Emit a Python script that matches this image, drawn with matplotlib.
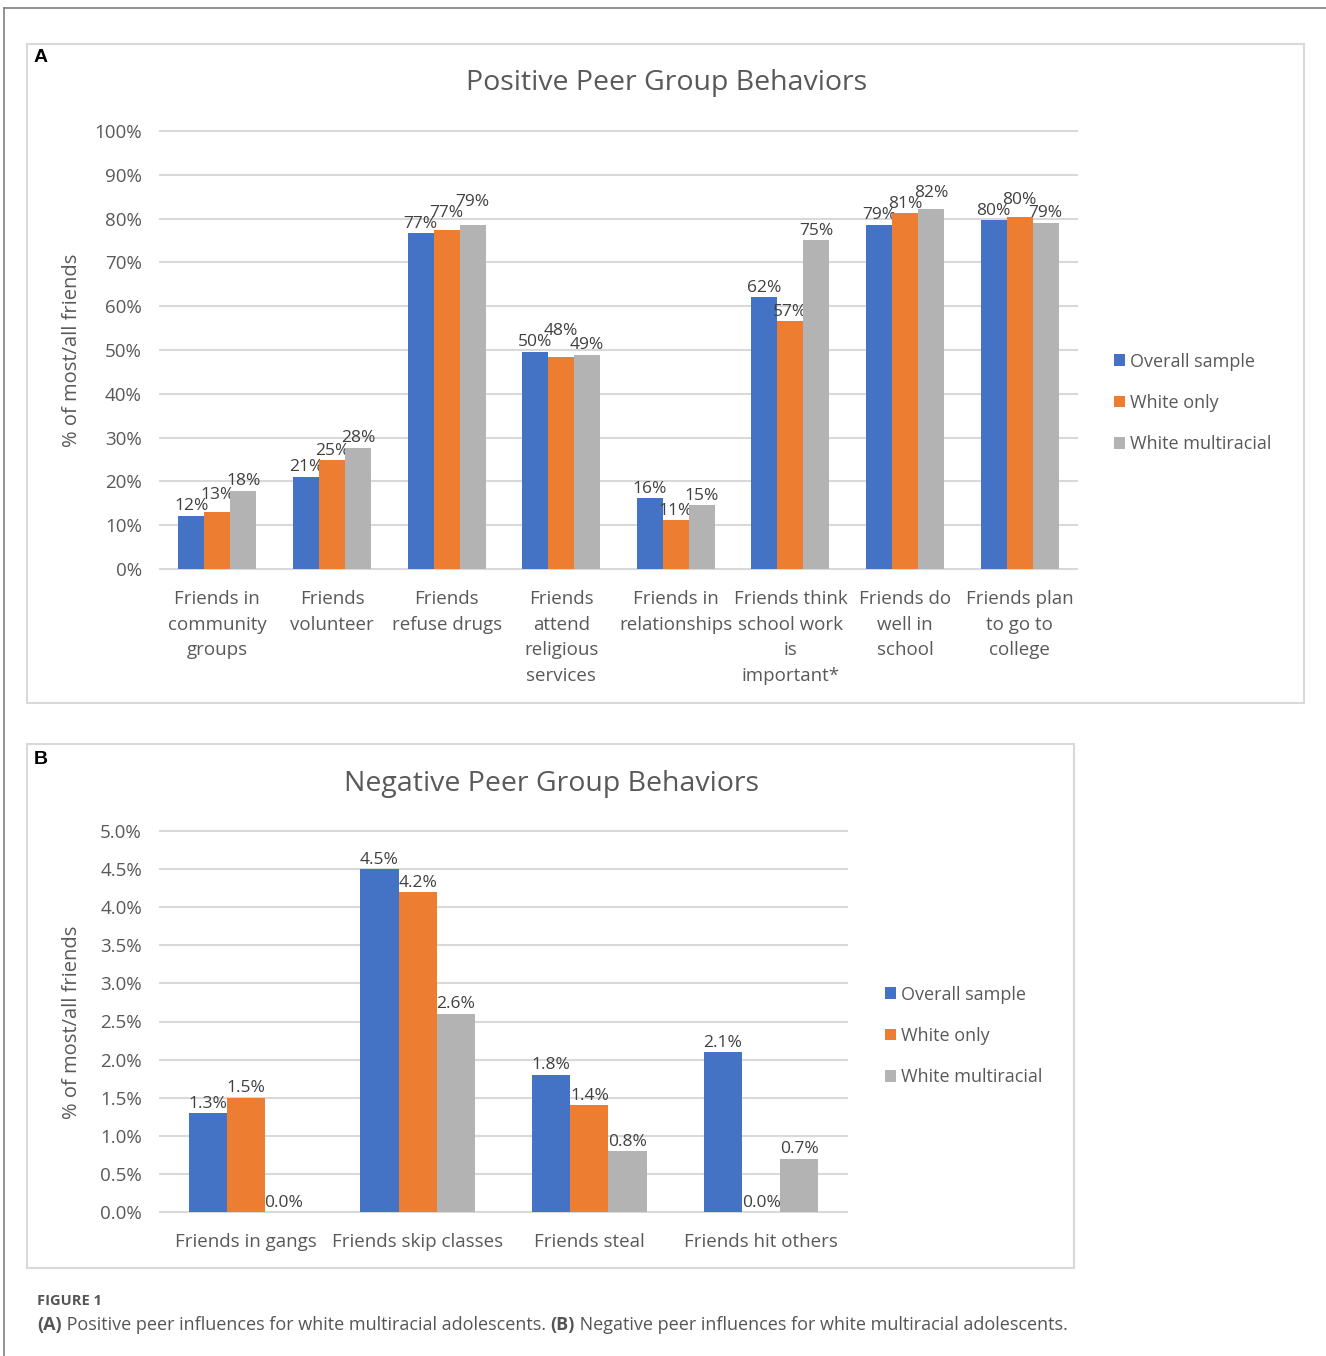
import numpy as np
import matplotlib
matplotlib.use('Agg')
import matplotlib.pyplot as plt
from matplotlib.patches import Rectangle
from matplotlib.lines import Line2D
from matplotlib.ticker import FuncFormatter

plt.rcParams['font.family'] = ['Open Sans', 'DejaVu Sans']

W, H = 1326, 1356

# panel A data (percent of most/all friends)
pos_categories = ['Friends in\ncommunity\ngroups', 'Friends\nvolunteer', 'Friends\nrefuse drugs',
                  'Friends\nattend\nreligious\nservices', 'Friends in\nrelationships',
                  'Friends think\nschool work\nis\nimportant*', 'Friends do\nwell in\nschool',
                  'Friends plan\nto go to\ncollege']
pos_overall = [12.2, 21.1, 76.6, 49.6, 16.1, 62.0, 78.6, 79.6]
pos_white = [12.9, 24.9, 77.3, 48.3, 11.1, 56.6, 81.3, 80.3]
pos_multi = [17.9, 27.7, 78.6, 48.9, 14.6, 75.1, 82.2, 79.1]

# panel B data
neg_categories = ['Friends in gangs', 'Friends skip classes', 'Friends steal', 'Friends hit others']
neg_overall = [1.3, 4.5, 1.8, 2.1]
neg_white = [1.5, 4.2, 1.4, 0.0]
neg_multi = [0.0, 2.6, 0.8, 0.7]

series_names = ['Overall sample', 'White only', 'White multiracial']
colors = ['#4472C4', '#ED7D31', '#B3B3B3']
text_grey = '#595959'
grid_grey = '#D9D9D9'


def px_rect(x0, y0, x1, y1):
    # pixel box (top-left origin) -> figure fraction
    return [x0 / W, 1 - y1 / H, (x1 - x0) / W, (y1 - y0) / H]


def draw_panel(ax, cats, series, ymax, step, fmt, bar_w):
    x = np.arange(len(cats))
    labels = []
    for i, (vals, name, c) in enumerate(zip(series, series_names, colors)):
        bars = ax.bar(x + (i - 1) * bar_w, vals, bar_w, color=c, label=name, zorder=3)
        labels.append(ax.bar_label(bars, labels=[fmt.format(v) for v in vals], padding=1,
                                   fontsize=12.5, color='#404040'))
    ax.set_xlim(-0.5, len(cats) - 0.5)
    ax.set_ylim(0, ymax)
    ax.set_yticks(np.arange(0, ymax + step / 2, step))
    ax.yaxis.set_major_formatter(FuncFormatter(lambda v, p: fmt.format(v)))
    ax.set_xticks(x)
    ax.set_xticklabels(cats, linespacing=1.55)
    ax.grid(axis='y', color=grid_grey, lw=1.5, zorder=0)
    for gl in ax.get_ygridlines():
        gl.set_clip_on(False)
    for s in ax.spines.values():
        s.set_visible(False)
    ax.tick_params(length=0, labelsize=13.5, labelcolor=text_grey)
    ax.tick_params(axis='y', pad=13)
    ax.tick_params(axis='x', pad=15)
    leg = ax.legend(loc='center left', frameon=False, fontsize=13, handlelength=0.6,
                    handleheight=0.6, handletextpad=0.3, labelspacing=1.3, borderpad=0)
    for t in leg.get_texts():
        t.set_color(text_grey)
    return leg, labels


def stagger_labels(labels, renderer):
    # push a data label up when it collides with a neighbour in the same group
    for j in range(len(labels[0])):
        for i in range(1, len(labels)):
            cur = labels[i][j]
            for k in range(i):
                prev = labels[k][j]
                a = prev.get_window_extent(renderer)
                b = cur.get_window_extent(renderer)
                if b.x0 < a.x1 - 1 and b.x1 > a.x0 + 1 and b.y0 < a.y1 - 5 and b.y1 > a.y0 + 5:
                    shift = (a.y1 - 5 - b.y0) * 72 / 100
                    dx, dy = cur.xyann
                    cur.xyann = (dx, dy + shift)


fig = plt.figure(figsize=(W / 100, H / 100), dpi=100)
fig.patch.set_facecolor('white')

# outer frame lines and panel boxes
fig.add_artist(Line2D([4 / W, 4 / W], [0, 1 - 8 / H], color='#808080', lw=1.2))
fig.add_artist(Line2D([4 / W, 1], [1 - 8 / H, 1 - 8 / H], color='#808080', lw=1.2))
fig.add_artist(Rectangle((27 / W, 1 - 703 / H), (1304 - 27) / W, (703 - 44) / H,
                         transform=fig.transFigure, fill=False, edgecolor=grid_grey, lw=1.5))
fig.add_artist(Rectangle((27 / W, 1 - 1268 / H), (1074 - 27) / W, (1268 - 744) / H,
                         transform=fig.transFigure, fill=False, edgecolor=grid_grey, lw=1.5))

# panel A
axA = fig.add_axes(px_rect(160, 131, 1077, 569))
legA, labA = draw_panel(axA, pos_categories, [pos_overall, pos_white, pos_multi], 100, 10,
                        '{:.0f}%', 0.227)
legA.set_bbox_to_anchor((1105 / W, 1 - 403 / H), transform=fig.transFigure)
fig.text(41 / W, 1 - 58 / H, 'A', fontsize=14, fontweight='bold', family='Liberation Sans',
         ha='center', va='center', color='black')
fig.text(667 / W, 1 - 83 / H, 'Positive Peer Group Behaviors', fontsize=20.5, color=text_grey,
         ha='center', va='center')
fig.text(72 / W, 1 - 350 / H, '% of most/all friends', fontsize=14.5, color=text_grey,
         rotation=90, ha='center', va='center')

# panel B
axB = fig.add_axes(px_rect(160, 831, 847, 1212))
legB, labB = draw_panel(axB, neg_categories, [neg_overall, neg_white, neg_multi], 5, 0.5,
                        '{:.1f}%', 0.222)
legB.set_bbox_to_anchor((876 / W, 1 - 1036 / H), transform=fig.transFigure)
fig.text(41 / W, 1 - 760 / H, 'B', fontsize=14, fontweight='bold', family='Liberation Sans',
         ha='center', va='center', color='black')
fig.text(551 / W, 1 - 784 / H, 'Negative Peer Group Behaviors', fontsize=20.5, color=text_grey,
         ha='center', va='center')
fig.text(72 / W, 1 - 1022 / H, '% of most/all friends', fontsize=14.5, color=text_grey,
         rotation=90, ha='center', va='center')

renderer = fig.canvas.get_renderer()
stagger_labels(labA, renderer)
stagger_labels(labB, renderer)

# caption
fig.text(37 / W, 1 - 1301 / H, 'FIGURE 1', fontsize=10.5, color='#555555', fontweight='bold',
         ha='left', va='center')
pieces = [('(A)', 'bold'), (' Positive peer influences for white multiracial adolescents. ', 'normal'),
          ('(B)', 'bold'), (' Negative peer influences for white multiracial adolescents.', 'normal')]
xpix = 37
for txt, wt in pieces:
    t = fig.text(xpix / W, 1 - 1325 / H, txt, fontsize=13, color='#555555', fontweight=wt,
                 ha='left', va='center')
    xpix += t.get_window_extent(renderer).width

fig.savefig('out.png', dpi=100, facecolor='white')
